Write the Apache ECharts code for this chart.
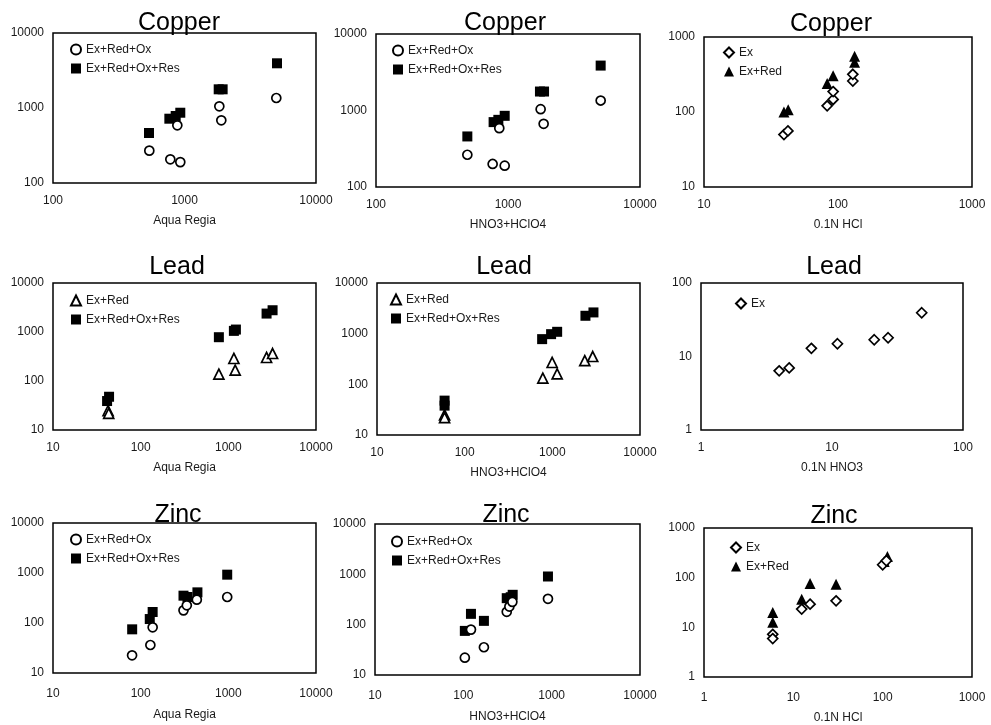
<!DOCTYPE html>
<html>
<head>
<meta charset="utf-8">
<script src="https://cdn.jsdelivr.net/npm/echarts@6/dist/echarts.min.js"></script>
<style>
html, body { margin: 0; padding: 0; background: #fff; }
#chart { width: 991px; height: 725px; }
</style>
</head>
<body>
<div id="chart"></div>
<script>
// [x, y] pairs
var cuAquaOx  = [[540, 270], [780, 207], [929, 190], [882, 588], [1840, 1053], [1905, 685], [4990, 1360]];
var cuAquaRes = [[537, 464], [767, 720], [857, 782], [929, 865], [1820, 1775], [1950, 1775], [5050, 3945]];
var cuHno3Ox  = [[492, 264], [765, 200], [944, 190], [859, 588], [1767, 1040], [1862, 670], [5035, 1350]];
var cuHno3Res = [[492, 458], [778, 705], [845, 755], [944, 852], [1746, 1770], [1875, 1770], [5035, 3865]];
var cuHclEx   = [[39.5, 50], [42.3, 56], [83, 121], [92, 147], [92, 187], [129, 259], [129, 318]];
var cuHclRed  = [[39.5, 100], [42.5, 107], [83, 239], [92, 305], [133, 459], [133, 552]];

var pbAquaRed = [[42.5, 24.8], [43.2, 21.8], [780, 138], [1157, 288], [1197, 167], [2730, 302], [3197, 364]];
var pbAquaRes = [[41.4, 39], [43.6, 47.7], [780, 783], [1157, 1054], [1220, 1122], [2730, 2377], [3197, 2780]];
var pbHno3Red = [[59, 24.9], [59, 22], [779, 132], [995, 270], [1135, 161], [2344, 295], [2890, 354]];
var pbHno3Res = [[59, 38], [59, 47.7], [765, 780], [968, 978], [1135, 1088], [2386, 2254], [2945, 2625]];
var pbNitricEx = [[3.95, 6.38], [4.71, 7.0], [6.96, 12.9], [11.0, 14.9], [21.0, 16.9], [26.8, 18.0], [48.4, 39.4]];

var znAquaOx  = [[79.8, 22.6], [129, 36.3], [137, 81.9], [308, 179], [336, 226], [437, 293], [971, 331]];
var znAquaRes = [[80, 74.7], [127, 120], [137, 166], [308, 352], [342, 331], [444, 410], [971, 926]];
var znHno3Ox  = [[104, 22.1], [122, 79.8], [171, 35.6], [310, 180], [332, 229], [359, 284], [908, 326]];
var znHno3Res = [[104, 75.2], [122, 164], [171, 119], [310, 336], [344, 351], [362, 392], [908, 906]];
var znHclEx   = [[5.88, 7.23], [5.88, 5.93], [12.4, 23.3], [15.4, 29.3], [30.1, 34.1], [100, 182], [110, 219]];
var znHclRed  = [[5.88, 20], [5.88, 12.7], [12.4, 36.8], [15.4, 76.5], [30.1, 74.1], [104, 212], [113, 267]];

var titles = ['Copper', 'Copper', 'Copper', 'Lead', 'Lead', 'Lead', 'Zinc', 'Zinc', 'Zinc'];
var xNames = ['Aqua Regia', 'HNO3+HClO4', '0.1N HCl', 'Aqua Regia', 'HNO3+HClO4', '0.1N HNO3', 'Aqua Regia', 'HNO3+HClO4', '0.1N HCl'];
var xRanges = [[100, 10000], [100, 10000], [10, 1000], [10, 10000], [10, 10000], [1, 100], [10, 10000], [10, 10000], [1, 1000]];
var yRanges = [[100, 10000], [100, 10000], [10, 1000], [10, 10000], [10, 10000], [1, 100], [10, 10000], [10, 10000], [1, 1000]];

var panels = [
  [['Ex+Red+Ox', cuAquaOx, 'ring'], ['Ex+Red+Ox+Res', cuAquaRes, 'square']],
  [['Ex+Red+Ox', cuHno3Ox, 'ring'], ['Ex+Red+Ox+Res', cuHno3Res, 'square']],
  [['Ex', cuHclEx, 'diamond'], ['Ex+Red', cuHclRed, 'tri']],
  [['Ex+Red', pbAquaRed, 'openTri'], ['Ex+Red+Ox+Res', pbAquaRes, 'square']],
  [['Ex+Red', pbHno3Red, 'openTri'], ['Ex+Red+Ox+Res', pbHno3Res, 'square']],
  [['Ex', pbNitricEx, 'diamond']],
  [['Ex+Red+Ox', znAquaOx, 'ring'], ['Ex+Red+Ox+Res', znAquaRes, 'square']],
  [['Ex+Red+Ox', znHno3Ox, 'ring'], ['Ex+Red+Ox+Res', znHno3Res, 'square']],
  [['Ex', znHclEx, 'diamond'], ['Ex+Red', znHclRed, 'tri']]
];

// layout: plot box [left, top, width, height], title centre/top, legend left/top
var boxes = [
  [53, 33, 263, 150], [376, 34, 264, 153], [704, 37, 268, 150],
  [53, 283, 263, 147], [377, 283, 263, 152], [701, 283, 262, 147],
  [53, 523, 263, 150], [375, 524, 265, 151], [704, 528, 268, 151]
];
var titleAt = [[179, 11], [505, 11], [831, 12], [177, 255], [504, 255], [834, 255], [178, 503], [506, 503], [834, 504]];
var legendAt = [[70, 43], [392, 44], [723, 46], [70, 294], [390, 293], [735, 297], [70, 533], [391, 535], [730, 541]];
// bottom row sits a little lower under its box
var labelGap = [12, 12, 12, 12, 12, 12, 15, 15, 15];
var nameGap = [32, 32, 32, 32, 32, 32, 36, 36, 35];

var FONT = 'Liberation Sans, Arial, sans-serif';
var INK = '#1a1a1a';

var markStyle = {
  ring:    { symbol: 'circle',   symbolSize: 9,  itemStyle: { color: '#fff', borderColor: '#000', borderWidth: 1.7, opacity: 1 } },
  square:  { symbol: 'rect',     symbolSize: 10, itemStyle: { color: '#000', opacity: 1 } },
  diamond: { symbol: 'diamond',  symbolSize: 10, itemStyle: { color: '#fff', borderColor: '#000', borderWidth: 1.7, opacity: 1 } },
  tri:     { symbol: 'triangle', symbolSize: 11, itemStyle: { color: '#000', opacity: 1 } },
  openTri: { symbol: 'triangle', symbolSize: 10, itemStyle: { color: '#fff', borderColor: '#000', borderWidth: 1.7, opacity: 1 } }
};

function plain(v) { return String(Math.round(v)); }

var grid = [], xAxis = [], yAxis = [], title = [], legend = [], series = [];

panels.forEach(function (list, i) {
  var b = boxes[i];
  grid.push({
    left: b[0], top: b[1], width: b[2], height: b[3],
    show: true, borderColor: '#000', borderWidth: 1.5, backgroundColor: '#fff'
  });
  xAxis.push({
    gridIndex: i, type: 'log', logBase: 10, min: xRanges[i][0], max: xRanges[i][1],
    name: xNames[i], nameLocation: 'middle', nameGap: nameGap[i],
    nameTextStyle: { fontFamily: FONT, fontSize: 12, color: INK },
    axisLine: { show: false }, axisTick: { show: false }, splitLine: { show: false },
    axisLabel: { margin: labelGap[i], fontFamily: FONT, fontSize: 12, color: INK, formatter: plain }
  });
  yAxis.push({
    gridIndex: i, type: 'log', logBase: 10, min: yRanges[i][0], max: yRanges[i][1],
    axisLine: { show: false }, axisTick: { show: false }, splitLine: { show: false },
    axisLabel: { margin: 9, fontFamily: FONT, fontSize: 12, color: INK, formatter: plain }
  });
  title.push({
    text: titles[i], left: titleAt[i][0], top: titleAt[i][1], textAlign: 'center', padding: 0,
    textStyle: { fontFamily: FONT, fontSize: 25, fontWeight: 'normal', color: '#000' }
  });
  var names = [];
  list.forEach(function (s) {
    var id = s[0] + '#' + i;
    names.push(id);
    var st = markStyle[s[2]];
    series.push({
      name: id, type: 'scatter', xAxisIndex: i, yAxisIndex: i,
      symbol: st.symbol, symbolSize: st.symbolSize, itemStyle: st.itemStyle,
      emphasis: { disabled: true },
      data: s[1], z: s[2] === 'square' || s[2] === 'tri' ? 2 : 3
    });
  });
  legend.push({
    data: names, orient: 'vertical', left: legendAt[i][0], top: legendAt[i][1],
    padding: 0, itemGap: 6, itemWidth: 10, itemHeight: 10, selectedMode: false,
    formatter: function (n) { return n.split('#')[0]; },
    textStyle: { fontFamily: FONT, fontSize: 12, color: INK, lineHeight: 13 }
  });
});

var chart = echarts.init(document.getElementById('chart'));
chart.setOption({
  backgroundColor: '#fff',
  animation: false,
  title: title,
  legend: legend,
  grid: grid,
  xAxis: xAxis,
  yAxis: yAxis,
  series: series
});
</script>
</body>
</html>
